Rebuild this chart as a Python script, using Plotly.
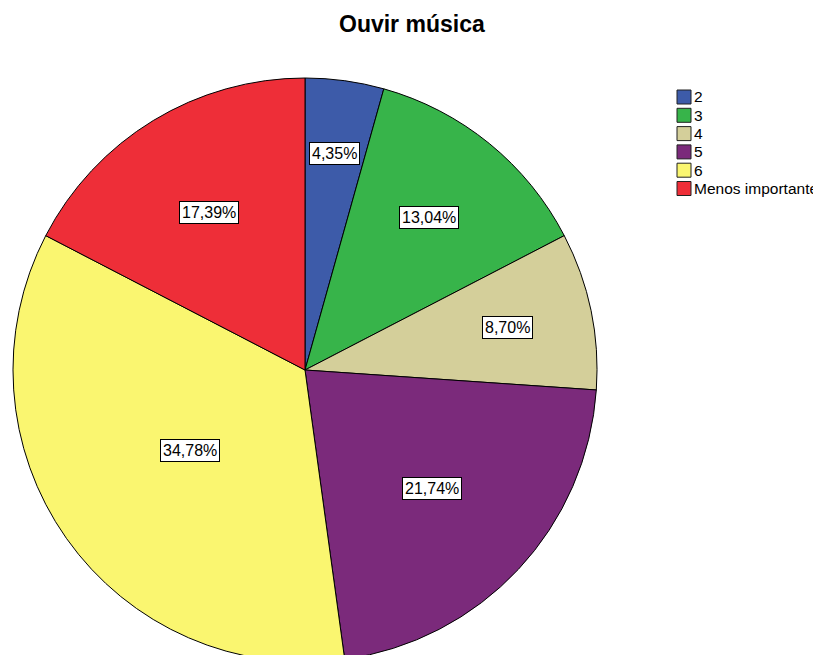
import math
import plotly.graph_objects as go

categories = ["2", "3", "4", "5", "6", "Menos importante"]
percentages = [4.35, 13.04, 8.70, 21.74, 34.78, 17.39]
colors = ["#3D5BA9", "#37B44A", "#D4CF9A", "#7B2A7B", "#FAF670", "#EE2E38"]
title_text = "Ouvir música"

W, H = 821, 655
FONT = "Liberation Sans, Arial, sans-serif"
SHIFT = 8  # the page body margin shifts the figure by this many px


def px(x):
    """screen x pixel -> paper x"""
    return (x - SHIFT) / W


def py(y):
    """screen y pixel -> paper y"""
    return 1 - (y - SHIFT) / H


# desired pie geometry in screen pixels (layout, not data)
PIE_CX, PIE_CY, PIE_R = 305, 370, 292
dom_x = [px(PIE_CX - PIE_R), px(PIE_CX + PIE_R)]
dom_y = [max(0.0, py(PIE_CY + PIE_R)), min(1.0, py(PIE_CY - PIE_R))]

fig = go.Figure()
fig.add_trace(go.Pie(
    labels=categories,
    values=percentages,
    sort=False,
    direction="clockwise",
    rotation=0,
    marker=dict(colors=colors, line=dict(color="black", width=1)),
    textinfo="none",
    hoverinfo="label+percent",
    domain=dict(x=dom_x, y=dom_y),
    showlegend=False,
))

# percentage labels along each slice bisector
total = sum(percentages)
cum = 0.0
for v in percentages:
    p = v / total
    mid = (cum + p / 2) * 2 * math.pi
    cum += p
    frac = 0.786 - 0.88 * p
    x_px = PIE_CX + PIE_R * frac * math.sin(mid)
    y_px = PIE_CY - PIE_R * frac * math.cos(mid)
    fig.add_annotation(
        x=px(x_px), y=py(y_px), xref="paper", yref="paper",
        xanchor="center", yanchor="middle",
        text=f"{v:.2f}%".replace(".", ","),
        showarrow=False,
        font=dict(family=FONT, size=16, color="black"),
        bgcolor="white", bordercolor="black", borderwidth=1, borderpad=2,
    )

# legend (SPSS style: compact squares with dark outline)
LEG_X, LEG_Y0, LEG_STEP, SQ = 677, 97, 18.3, 14
for i, (cat, col) in enumerate(zip(categories, colors)):
    yc = LEG_Y0 + i * LEG_STEP
    fig.add_shape(
        type="rect", xref="paper", yref="paper",
        x0=px(LEG_X), x1=px(LEG_X + SQ),
        y0=py(yc + SQ / 2), y1=py(yc - SQ / 2),
        fillcolor=col, line=dict(color="#222222", width=1),
    )
    fig.add_annotation(
        x=px(LEG_X + SQ + 1), y=py(yc), xref="paper", yref="paper",
        xanchor="left", yanchor="middle", showarrow=False,
        text=cat, font=dict(family=FONT, size=15.5, color="black"),
    )

fig.update_layout(
    width=W, height=H,
    margin=dict(l=0, r=0, t=0, b=0),
    paper_bgcolor="white",
    plot_bgcolor="white",
    showlegend=False,
    title=dict(text=f"<b>{title_text}</b>", x=px(339), xanchor="left",
               y=py(24), yanchor="middle",
               font=dict(family=FONT, size=23, color="black")),
    font=dict(family=FONT),
)

fig.write_html("out.html")
